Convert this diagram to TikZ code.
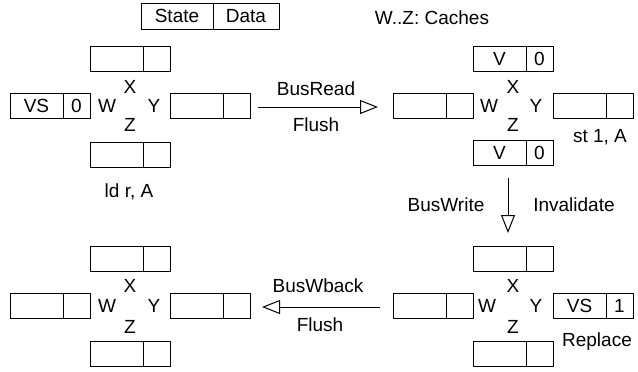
\documentclass[tikz,border=0pt]{standalone}
\usepackage{fontspec}
\setmainfont{Liberation Sans}
\usetikzlibrary{arrows.meta}

\begin{document}
\begin{tikzpicture}[x=1pt, y=-1pt, line width=1pt,
        every node/.style={font=\fontsize{19}{21}\selectfont},
        sfield/.style={draw, minimum width=53pt, minimum height=25pt, inner sep=0pt},
        dfield/.style={draw, minimum width=27pt, minimum height=25pt, inner sep=0pt},
        bus/.style={-{Triangle[open, length=18pt, width=14pt]}}]
        \useasboundingbox (0, 0) rectangle (638, 372);

        % legend
        \node[draw, minimum width=72pt, minimum height=26pt, inner sep=0pt] at(177, 16) (legs) {State};
        \node[draw, minimum width=66pt, minimum height=26pt, inner sep=0pt] at(246, 16) (legd) {Data};
        \node at(432, 18) (legc) {W..Z: Caches};

        % top left: ld r, A
        \node[sfield] at(116.5, 59) (tlXs) {};
        \node[dfield] at(156.5, 59) (tlXd) {};
        \node[sfield] at(36.5, 106) (tlWs) {VS};
        \node[dfield] at(76.5, 106) (tlWd) {0};
        \node[sfield] at(196.5, 106) (tlYs) {};
        \node[dfield] at(236.5, 106) (tlYd) {};
        \node[sfield] at(116.5, 155) (tlZs) {};
        \node[dfield] at(156.5, 155) (tlZd) {};
        \node at(130, 87) (tlX) {X};
        \node at(107, 106) (tlW) {W};
        \node at(154, 106) (tlY) {Y};
        \node at(130, 125) (tlZ) {Z};
        \node at(129, 192) (tlop) {ld r, A};

        % top right: st 1, A
        \node[sfield] at(499.5, 59) (trXs) {V};
        \node[dfield] at(539.5, 59) (trXd) {0};
        \node[sfield] at(419.5, 106) (trWs) {};
        \node[dfield] at(459.5, 106) (trWd) {};
        \node[sfield] at(579.5, 106) (trYs) {};
        \node[dfield] at(619.5, 106) (trYd) {};
        \node[sfield] at(499.5, 153) (trZs) {V};
        \node[dfield] at(539.5, 153) (trZd) {0};
        \node at(513, 87) (trX) {X};
        \node at(489, 106) (trW) {W};
        \node at(536, 106) (trY) {Y};
        \node at(513, 125) (trZ) {Z};
        \node at(600, 137) (trop) {st 1, A};

        % bottom right: replace
        \node[sfield] at(499.5, 259) (brXs) {};
        \node[dfield] at(539.5, 259) (brXd) {};
        \node[sfield] at(419.5, 306) (brWs) {};
        \node[dfield] at(459.5, 306) (brWd) {};
        \node[sfield] at(579.5, 306) (brYs) {VS};
        \node[dfield] at(619.5, 306) (brYd) {1};
        \node[sfield] at(499.5, 354) (brZs) {};
        \node[dfield] at(539.5, 354) (brZd) {};
        \node at(513, 286) (brX) {X};
        \node at(487, 306) (brW) {W};
        \node at(536, 306) (brY) {Y};
        \node at(513, 327) (brZ) {Z};
        \node at(597, 342) (brop) {Replace};

        % bottom left
        \node[sfield] at(116.5, 259) (blXs) {};
        \node[dfield] at(156.5, 259) (blXd) {};
        \node[sfield] at(36.5, 306) (blWs) {};
        \node[dfield] at(76.5, 306) (blWd) {};
        \node[sfield] at(196.5, 306) (blYs) {};
        \node[dfield] at(236.5, 306) (blYd) {};
        \node[sfield] at(116.5, 354) (blZs) {};
        \node[dfield] at(156.5, 354) (blZd) {};
        \node at(130, 286) (blX) {X};
        \node at(107, 306) (blW) {W};
        \node at(154, 306) (blY) {Y};
        \node at(130, 327) (blZ) {Z};

        % bus transactions
        \coordinate (rdA) at(258, 107);
        \coordinate (rdB) at(378, 107);
        \draw[bus] (rdA) -- (rdB);
        \node at(316, 89) (rdup) {BusRead};
        \node at(316, 125) (rddn) {Flush};

        \coordinate (wrA) at(508, 178);
        \coordinate (wrB) at(508, 233);
        \draw[bus] (wrA) -- (wrB);
        \node at(446, 205) (wrl) {BusWrite};
        \node at(574, 205) (wrr) {Invalidate};

        \coordinate (wbA) at(380, 307);
        \coordinate (wbB) at(262, 307);
        \draw[bus] (wbA) -- (wbB);
        \node at(318, 286) (wbup) {BusWback};
        \node at(320, 325) (wbdn) {Flush};
    \end{tikzpicture}
\end{document}
